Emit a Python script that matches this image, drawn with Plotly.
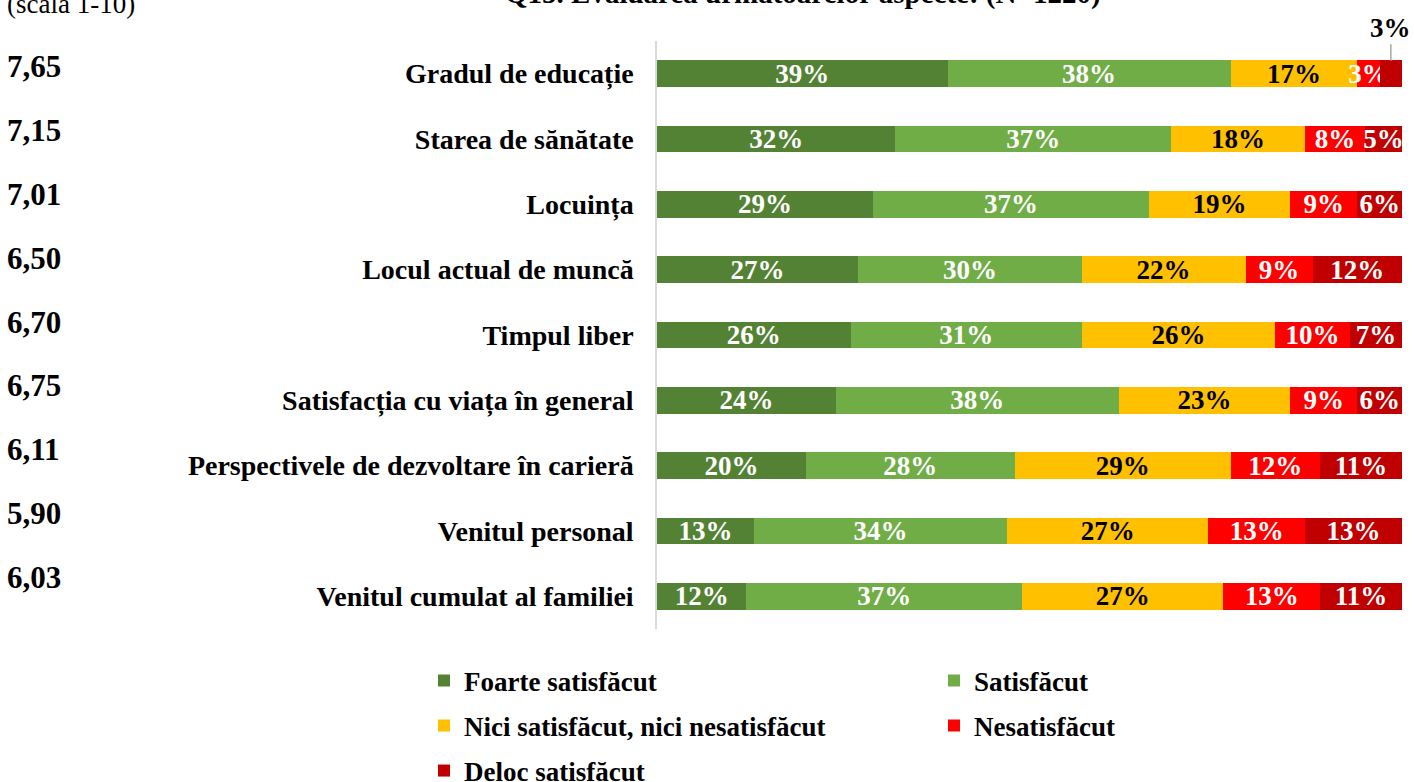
import plotly.graph_objects as go

categories = [
    "Gradul de educație",
    "Starea de sănătate",
    "Locuința",
    "Locul actual de muncă",
    "Timpul liber",
    "Satisfacția cu viața în general",
    "Perspectivele de dezvoltare în carieră",
    "Venitul personal",
    "Venitul cumulat al familiei",
]
scores = ["7,65", "7,15", "7,01", "6,50", "6,70", "6,75", "6,11", "5,90", "6,03"]

series_names = [
    "Foarte satisfăcut",
    "Satisfăcut",
    "Nici satisfăcut, nici nesatisfăcut",
    "Nesatisfăcut",
    "Deloc satisfăcut",
]
foarte = [39, 32, 29, 27, 26, 24, 20, 13, 12]
satisfacut = [38, 37, 37, 30, 31, 38, 28, 34, 37]
nici = [17, 18, 19, 22, 26, 23, 29, 27, 27]
nesatisfacut = [3, 8, 9, 9, 10, 9, 12, 13, 13]
deloc = [3, 5, 6, 12, 7, 6, 11, 13, 11]

series_values = [foarte, satisfacut, nici, nesatisfacut, deloc]
colors = ["#548235", "#70AD47", "#FFC000", "#FF0000", "#C00000"]
text_colors = ["white", "white", "black", "white", "white"]
legend_ids = ["legend", "legend", "legend2", "legend2", "legend3"]

FONT = "Times New Roman, Liberation Serif, serif"

fig = go.Figure()
for i, (name, vals) in enumerate(zip(series_names, series_values)):
    if i == 4:
        texts = ["" if v < 4 else f"{v}%" for v in vals]
    else:
        texts = [f"{v}%" for v in vals]
    fig.add_trace(go.Bar(
        y=categories, x=vals, name=name, orientation="h",
        marker=dict(color=colors[i], line=dict(width=0)),
        text=texts, textposition="inside", insidetextanchor="middle",
        constraintext="none", textangle=0,
        textfont=dict(family=FONT, size=27, color=text_colors[i], weight="bold"),
        width=0.41, legend=legend_ids[i], hoverinfo="skip",
    ))

annotations = []
# small Deloc values shown above the bar with a leader line
for j, v in enumerate(deloc):
    if v < 4:
        start = foarte[j] + satisfacut[j] + nici[j] + nesatisfacut[j]
        annotations.append(dict(
            x=start + v / 2, y=categories[j], xref="x", yref="y",
            text=f"<b>{v}%</b>", showarrow=True, arrowhead=0, arrowwidth=1.5,
            arrowcolor="#A6A6A6", ax=0, ay=-46, standoff=13,
            font=dict(family=FONT, size=27, color="black"),
        ))

# mean scores at left
for j, s in enumerate(scores):
    annotations.append(dict(
        x=(5 - 657) / 745, y=categories[j], xref="paper", yref="y",
        xanchor="left", yanchor="middle", yshift=7 + 1.5 * j,
        text=f"<b>{s}</b>", showarrow=False,
        font=dict(family=FONT, size=31, color="black"),
    ))

annotations.append(dict(
    x=(5 - 657) / 745, y=(629 - 21) / 588, xref="paper", yref="paper",
    xanchor="left", yanchor="bottom", text="(scală 1-10)", showarrow=False,
    font=dict(family=FONT, size=27, color="black"),
))
annotations.append(dict(
    x=(803 - 657) / 745, y=(629 - 12) / 588, xref="paper", yref="paper",
    xanchor="center", yanchor="bottom",
    text="<b>Q15. Evaluarea următoarelor aspecte: (N=1220)</b>", showarrow=False,
    font=dict(family=FONT, size=29, color="black"),
))

legend_common = dict(
    orientation="h", entrywidth=465, entrywidthmode="pixels",
    xanchor="left", yanchor="middle", x=(424 - 657) / 745,
    bgcolor="rgba(0,0,0,0)", traceorder="normal",
    font=dict(family=FONT, size=27, color="black", weight="bold"),
)

fig.update_layout(
    width=1414, height=782,
    margin=dict(l=657, r=12, t=41, b=153, autoexpand=False),
    barmode="stack",
    plot_bgcolor="white", paper_bgcolor="white",
    showlegend=True,
    legend=dict(legend_common, y=(629 - 681) / 588),
    legend2=dict(legend_common, y=(629 - 726) / 588),
    legend3=dict(legend_common, y=(629 - 771) / 588),
    xaxis=dict(range=[0, 100], visible=False, fixedrange=True),
    yaxis=dict(
        range=[8.5, -0.5], autorange=False, showline=True, linecolor="#D9D9D9",
        linewidth=1.5, ticks="", ticklabelstandoff=16, showgrid=False,
        tickfont=dict(family=FONT, size=28, color="black", weight="bold"),
    ),
    annotations=annotations,
    uniformtext=dict(mode=False),
)

fig.write_html(
    "out.html",
    config={"displayModeBar": False},
    post_script="document.body.style.margin='0';document.body.style.overflow='hidden';",
)
